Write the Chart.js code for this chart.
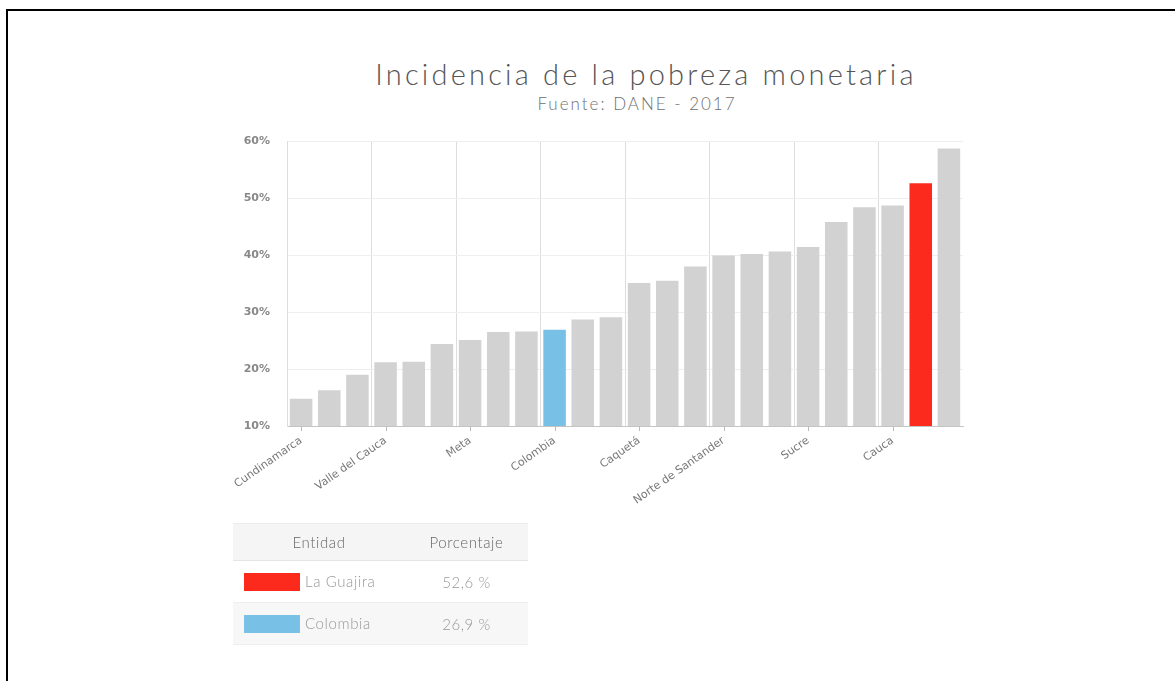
<!DOCTYPE html>
<html>
<head>
<meta charset="utf-8">
<script src="https://cdn.jsdelivr.net/npm/chart.js@4/dist/chart.umd.min.js"></script>
<style>
  html, body { margin: 0; padding: 0; background: #fff; width: 1175px; height: 681px; overflow: hidden; }
  #frame { position: absolute; left: 6px; top: 9px; width: 1400px; height: 900px; border-top: 2px solid #000; border-left: 2px solid #000; }
  #wrap { position: absolute; left: 0; top: 0; width: 1175px; height: 600px; }
  #title { position: absolute; left: 0; width: 1292px; top: 56px; text-align: center; font-family: "Lato", sans-serif; font-weight: 300; font-size: 29px; letter-spacing: 3.2px; color: #555; white-space: nowrap; }
  #subtitle { position: absolute; left: 0; width: 1274px; top: 93px; text-align: center; font-family: "Lato", sans-serif; font-weight: 300; font-size: 17px; letter-spacing: 2px; color: #707070; white-space: nowrap; }
  #tbl { position: absolute; left: 233px; top: 523px; width: 295px; border-collapse: collapse; font-family: "Lato", sans-serif; font-weight: 300; }
  #tbl th { background: #f5f5f5; color: #666; font-weight: 300; font-size: 15px; letter-spacing: 0.6px; height: 36px; padding: 0; border-top: 1px solid #ececec; border-bottom: 1px solid #e6e6e6; text-align: center; }
  #tbl td { height: 41px; padding: 0; font-size: 15px; letter-spacing: 0.6px; color: #999; border-bottom: 1px solid #eeeeee; }
  #tbl tr.alt td { background: #f7f7f7; }
  .sw { display: inline-block; width: 56px; height: 18px; vertical-align: -4px; margin-left: 11px; margin-right: 5px; }
  td.pc { text-align: center; }
</style>
</head>
<body>
<div id="frame"></div>
<div id="title">Incidencia de la pobreza monetaria</div>
<div id="subtitle">Fuente: DANE - 2017</div>
<div id="wrap"><canvas id="c"></canvas></div>
<table id="tbl">
  <thead><tr><th style="width:172px">Entidad</th><th>Porcentaje</th></tr></thead>
  <tbody id="tb"></tbody>
</table>
<script>
const categories = [
  "Cundinamarca", "Santander", "Risaralda", "Valle del Cauca", "Antioquia", "Atlántico",
  "Meta", "Caldas", "Quindío", "Colombia", "Boyacá", "Tolima",
  "Caquetá", "Bolívar", "Huila", "Norte de Santander", "Cesar", "Nariño",
  "Sucre", "Córdoba", "Magdalena", "Cauca", "La Guajira", "Chocó"
];
const values = [
  14.8, 16.3, 19.0, 21.2, 21.3, 24.4,
  25.1, 26.5, 26.6, 26.9, 28.7, 29.1,
  35.1, 35.5, 38.0, 39.9, 40.2, 40.6,
  41.4, 45.8, 48.4, 48.7, 52.6, 58.7
];
const yTicks = [10, 20, 30, 40, 50, 60];
const highlighted = ["La Guajira", "Colombia"];
const highlightColors = ["#fb2a1c", "#79c0e6"];
const baseColor = "#d2d2d2";

const barColors = categories.map(c => {
  const k = highlighted.indexOf(c);
  return k >= 0 ? highlightColors[k] : baseColor;
});

// table
const tb = document.getElementById('tb');
highlighted.forEach((name, k) => {
  const v = values[categories.indexOf(name)];
  const tr = document.createElement('tr');
  if (k % 2 === 1) tr.className = 'alt';
  tr.innerHTML = '<td><span class="sw" style="background:' + highlightColors[k] + '"></span>' + name +
    '</td><td class="pc">' + v.toFixed(1).replace('.', ',') + ' %</td>';
  tb.appendChild(tr);
});

const tickMarks = {
  id: 'tickMarks',
  afterDraw(chart) {
    const x = chart.scales.x, ctx = chart.ctx;
    const y0 = chart.chartArea.bottom;
    ctx.save();
    ctx.strokeStyle = '#bbbbbb';
    ctx.lineWidth = 1;
    categories.forEach((c, i) => {
      if (i % 3 !== 0) return;
      const px = Math.round(x.getPixelForValue(i)) + 0.5;
      ctx.beginPath();
      ctx.moveTo(px, y0);
      ctx.lineTo(px, y0 + 5);
      ctx.stroke();
    });
    ctx.restore();
  }
};

new Chart(document.getElementById('c'), {
  type: 'bar',
  data: {
    labels: categories,
    datasets: [{
      data: values,
      backgroundColor: barColors,
      borderWidth: 0,
      barPercentage: 0.8,
      categoryPercentage: 1.0
    }]
  },
  options: {
    responsive: true,
    maintainAspectRatio: false,
    animation: false,
    events: [],
    layout: { padding: { left: 230, right: 212, top: 141, bottom: 85 } },
    plugins: { legend: { display: false }, tooltip: { enabled: false } },
    scales: {
      x: {
        grid: {
          offset: true,
          drawTicks: false,
          color: ctx => (ctx.index % 3 === 0 ? '#dddddd' : 'rgba(0,0,0,0)')
        },
        border: { display: true, color: '#c4c4c4' },
        ticks: {
          autoSkip: false,
          minRotation: 35,
          maxRotation: 35,
          padding: 8,
          color: '#777',
          font: { family: 'DejaVu Sans', size: 11 },
          callback: function (v, i) { return i % 3 === 0 ? categories[i] : ''; }
        }
      },
      y: {
        min: 10,
        max: 60,
        afterFit(scale) { scale.width = 57; },
        afterBuildTicks(scale) { scale.ticks = yTicks.map(v => ({ value: v })); },
        grid: { drawTicks: false, color: '#eeeeee' },
        border: { display: true, color: '#dddddd' },
        ticks: {
          padding: 17,
          color: '#888',
          font: { family: 'DejaVu Sans', size: 11, weight: 'bold' },
          callback: v => v + '%'
        }
      }
    }
  },
  plugins: [tickMarks]
});
</script>
</body>
</html>
